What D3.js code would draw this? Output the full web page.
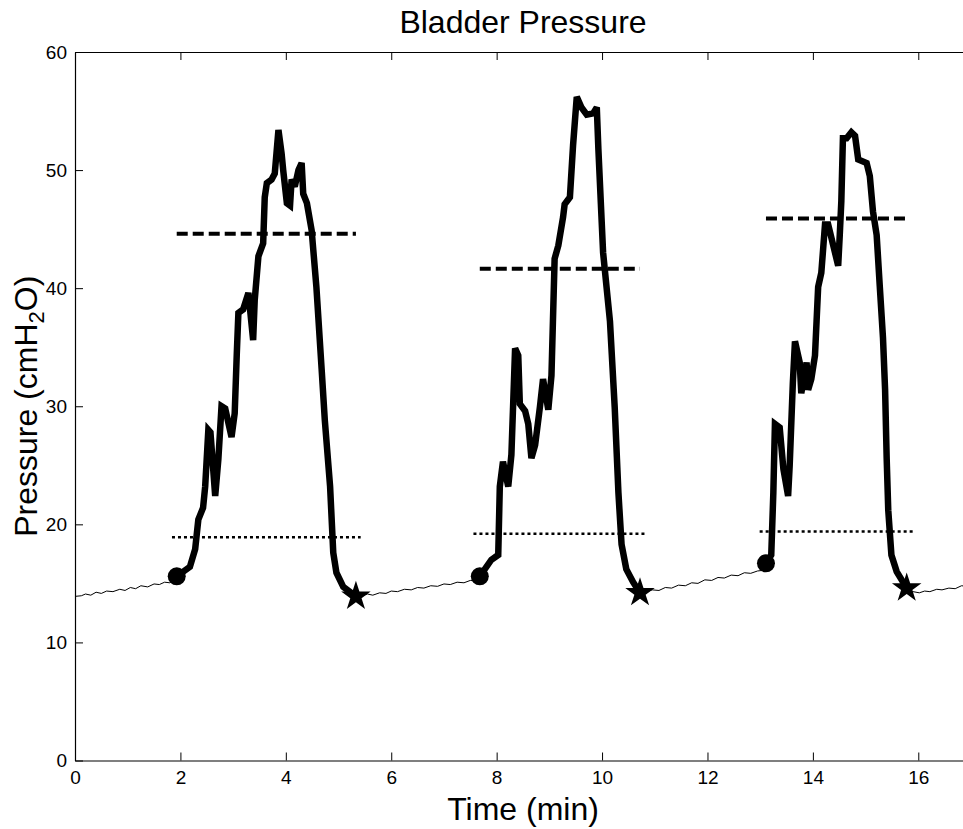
<!DOCTYPE html>
<html>
<head>
<meta charset="utf-8">
<script src="https://cdn.jsdelivr.net/npm/d3@7"></script>
<style>
  body { margin: 0; background: #fff; }
  svg text { font-family: "Liberation Sans", Arial, sans-serif; fill: #000; }
</style>
</head>
<body>
<div id="chart"></div>
<script>
// Bladder pressure trace: thin baseline between voids, thick trace during voids

// thin baseline segments [time (min), pressure (cmH2O)]
const baseline1 = [[0,13.9],[0.12,13.95],[0.2,14.1],[0.3,14.0],[0.4,14.25],[0.5,14.15],[0.6,14.35],[0.72,14.3],[0.85,14.5],[0.95,14.4],[1.05,14.65],[1.15,14.55],[1.25,14.8],[1.38,14.7],[1.5,14.95],[1.6,14.9],[1.7,15.1],[1.8,15.05],[1.93,15.6]];
const baseline2 = [[5.33,13.9],[5.45,13.95],[5.55,14.1],[5.65,14.0],[5.78,14.2],[5.9,14.15],[6.0,14.35],[6.12,14.3],[6.25,14.5],[6.38,14.45],[6.5,14.65],[6.62,14.6],[6.75,14.8],[6.88,14.75],[7.0,14.95],[7.12,14.9],[7.25,15.1],[7.38,15.05],[7.5,15.25],[7.6,15.2],[7.68,15.6]];
const baseline3 = [[10.72,14.2],[10.85,14.3],[10.95,14.45],[11.08,14.4],[11.2,14.65],[11.32,14.6],[11.45,14.85],[11.58,14.8],[11.7,15.05],[11.82,15.0],[11.95,15.3],[12.08,15.25],[12.2,15.5],[12.32,15.45],[12.45,15.7],[12.58,15.65],[12.7,15.9],[12.82,15.85],[12.95,16.05],[13.05,16.1],[13.11,16.7]];
const baseline4 = [[15.78,14.6],[15.9,14.3],[16.02,14.2],[16.12,14.35],[16.22,14.3],[16.35,14.5],[16.45,14.45],[16.58,14.6],[16.7,14.55],[16.82,14.8],[16.92,14.75],[17,14.9]];

// thick void segments
const void1 = [[1.93,15.6],[2.18,16.4],[2.28,17.9],[2.34,20.4],[2.43,21.4],[2.47,23.2],[2.53,28.0],[2.57,27.8],[2.66,22.4],[2.72,25.5],[2.78,30.0],[2.85,29.8],[2.97,27.4],[3.03,29.4],[3.07,34.5],[3.10,37.9],[3.19,38.2],[3.29,39.6],[3.38,35.6],[3.41,39.0],[3.48,42.7],[3.57,43.8],[3.60,47.7],[3.64,48.9],[3.73,49.2],[3.79,49.7],[3.86,53.4],[3.92,51.4],[3.95,50.0],[4.02,47.2],[4.08,47.0],[4.11,49.2],[4.17,48.6],[4.24,50.0],[4.30,50.6],[4.33,48.0],[4.40,47.2],[4.49,44.9],[4.58,40.1],[4.68,33.1],[4.74,28.8],[4.84,23.2],[4.90,17.6],[4.96,15.9],[5.09,14.7],[5.33,13.9]];
const void2 = [[7.68,15.6],[7.90,17.0],[8.03,17.4],[8.06,23.2],[8.12,25.3],[8.22,23.2],[8.28,25.9],[8.35,34.9],[8.41,34.3],[8.44,30.2],[8.54,29.6],[8.60,28.5],[8.66,25.6],[8.73,26.7],[8.82,29.9],[8.88,32.3],[8.98,29.7],[9.04,32.6],[9.10,42.5],[9.17,43.6],[9.26,46.0],[9.29,47.1],[9.39,47.7],[9.45,52.1],[9.52,56.2],[9.61,55.3],[9.71,54.7],[9.83,54.8],[9.90,55.3],[9.93,51.8],[10.02,43.0],[10.15,37.2],[10.24,29.9],[10.31,22.7],[10.37,18.3],[10.46,16.2],[10.59,15.1],[10.72,14.2]];
const void3 = [[13.11,16.7],[13.21,17.4],[13.25,22.7],[13.28,28.5],[13.37,28.2],[13.44,24.7],[13.53,22.4],[13.56,25.0],[13.62,32.0],[13.66,35.5],[13.75,33.7],[13.78,31.1],[13.88,33.7],[13.91,31.4],[13.97,32.3],[14.04,34.3],[14.07,37.2],[14.10,40.1],[14.16,41.3],[14.23,45.4],[14.29,45.4],[14.42,43.0],[14.48,41.9],[14.51,44.5],[14.54,47.4],[14.57,52.7],[14.64,52.7],[14.73,53.2],[14.80,52.9],[14.86,50.9],[15.02,50.6],[15.08,49.5],[15.14,46.5],[15.21,44.5],[15.27,40.1],[15.33,35.8],[15.37,31.4],[15.40,25.6],[15.43,21.2],[15.49,17.4],[15.59,16.0],[15.78,14.6]];

// threshold lines per void
const dashedLevel = [44.6, 41.65, 45.9];
const dottedLevel = [18.9, 19.2, 19.4];
const dottedStart = [1.84, 7.56, 12.99];
const dottedEnd = [5.42, 10.85, 15.9];

const xTicks = [0, 2, 4, 6, 8, 10, 12, 14, 16];
const yTicks = [0, 10, 20, 30, 40, 50, 60];

const voids = [void1, void2, void3];
const baselines = [baseline1, baseline2, baseline3, baseline4];

const W = 963, H = 829;
const margin = {top: 52, right: -8, bottom: 68.5, left: 75};
const width = W - margin.left - margin.right,
      height = H - margin.top - margin.bottom;

const svg = d3.select("#chart")
  .append("svg")
  .attr("width", W)
  .attr("height", H);

const g = svg.append("g")
  .attr("transform", `translate(${margin.left},${margin.top})`);

const x = d3.scaleLinear().domain([0, 17]).range([0, width]);
const y = d3.scaleLinear().domain([0, 60]).range([height, 0]);

const line = d3.line().x(d => x(d[0])).y(d => y(d[1]));

// axes, ticks pointing inward like the original
const styleAxis = sel => {
  sel.select(".domain").attr("stroke", "#000").attr("stroke-width", 1.2);
  sel.selectAll(".tick line").attr("stroke", "#000");
  sel.selectAll("text").style("font-size", "19px").attr("fill", "#000");
};

g.append("g")
  .attr("transform", `translate(0,${height})`)
  .call(d3.axisBottom(x).tickValues(xTicks).tickSize(-8).tickSizeOuter(0).tickPadding(10))
  .call(styleAxis);

g.append("g")
  .call(d3.axisTop(x).tickValues(xTicks).tickSize(-8).tickSizeOuter(0).tickFormat(""))
  .call(styleAxis);

g.append("g")
  .call(d3.axisLeft(y).tickValues(yTicks).tickSize(-8).tickSizeOuter(0).tickPadding(8))
  .call(styleAxis);

g.append("g")
  .attr("transform", `translate(${width},0)`)
  .call(d3.axisRight(y).tickValues(yTicks).tickSize(-8).tickSizeOuter(0).tickFormat(""))
  .call(styleAxis);

// thin baseline
g.selectAll(".base")
  .data(baselines)
  .enter()
  .append("path")
  .attr("class", "base")
  .attr("d", line)
  .attr("fill", "none")
  .attr("stroke", "#000")
  .attr("stroke-width", 1);

// thick void traces
g.selectAll(".void")
  .data(voids)
  .enter()
  .append("path")
  .attr("class", "void")
  .attr("d", line)
  .attr("fill", "none")
  .attr("stroke", "#000")
  .attr("stroke-width", 6.5)
  .attr("stroke-linejoin", "miter")
  .attr("stroke-miterlimit", 3);

// dashed level lines spanning each void
g.selectAll(".dash")
  .data(voids)
  .enter()
  .append("line")
  .attr("x1", d => x(d[0][0]))
  .attr("x2", d => x(d[d.length - 1][0]))
  .attr("y1", (d, i) => y(dashedLevel[i]))
  .attr("y2", (d, i) => y(dashedLevel[i]))
  .attr("stroke", "#000")
  .attr("stroke-width", 4)
  .attr("stroke-dasharray", "11,5");

// dotted level lines
g.selectAll(".dot")
  .data(dottedLevel)
  .enter()
  .append("line")
  .attr("x1", (d, i) => x(dottedStart[i]))
  .attr("x2", (d, i) => x(dottedEnd[i]))
  .attr("y1", d => y(d))
  .attr("y2", d => y(d))
  .attr("stroke", "#000")
  .attr("stroke-width", 2.5)
  .attr("stroke-dasharray", "3,3");

// start markers (circle) and end markers (star)
g.selectAll(".start")
  .data(voids)
  .enter()
  .append("circle")
  .attr("cx", d => x(d[0][0]))
  .attr("cy", d => y(d[0][1]))
  .attr("r", 9)
  .attr("fill", "#000");

g.selectAll(".end")
  .data(voids)
  .enter()
  .append("path")
  .attr("transform", d => `translate(${x(d[d.length - 1][0])},${y(d[d.length - 1][1])})`)
  .attr("d", d3.symbol().type(d3.symbolStar).size(270))
  .attr("fill", "#000");

// title and labels
svg.append("text")
  .attr("x", margin.left + width / 2)
  .attr("y", 33)
  .attr("text-anchor", "middle")
  .style("font-size", "32px")
  .text("Bladder Pressure");

svg.append("text")
  .attr("x", margin.left + width / 2)
  .attr("y", 820)
  .attr("text-anchor", "middle")
  .style("font-size", "32px")
  .text("Time (min)");

const ylab = svg.append("text")
  .attr("transform", `translate(37,${margin.top + height / 2}) rotate(-90)`)
  .attr("text-anchor", "middle")
  .style("font-size", "32px");
ylab.append("tspan").text("Pressure (cmH");
ylab.append("tspan").attr("dy", 7).style("font-size", "22px").text("2");
ylab.append("tspan").attr("dy", -7).text("O)");
</script>
</body>
</html>
